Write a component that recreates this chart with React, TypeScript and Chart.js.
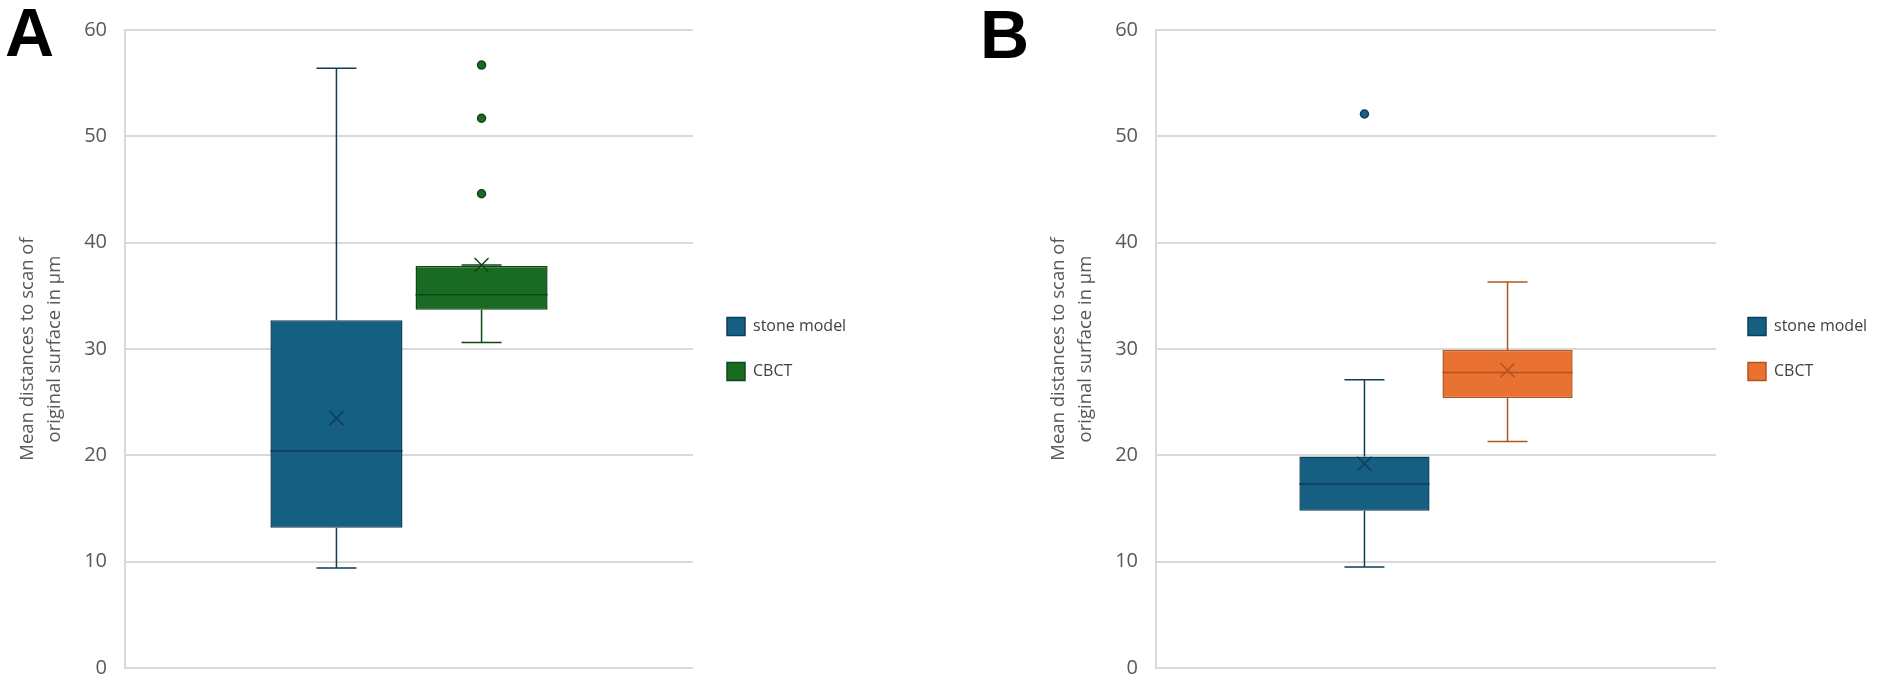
import React, { useEffect, useRef } from 'react';
import { Chart, registerables } from 'chart.js';

Chart.register(...registerables);

// ---------- data ----------
const categories = [''];
const seriesNames = ['stone model', 'CBCT'];
const yMin = 0;
const yMax = 60;
const yStep = 10;
const axisTitle = ['Mean distances to scan of', 'original surface in µm'];

// Panel A
const aMin = [9.4, 30.6];
const aQ1 = [13.2, 33.7];
const aMedian = [20.4, 35.1];
const aQ3 = [32.7, 37.8];
const aMax = [56.4, 37.9];
const aMean = [23.5, 37.9];
const aOutliers = [[], [44.6, 51.7, 56.7]];

// Panel B
const bMin = [9.5, 21.3];
const bQ1 = [14.8, 25.4];
const bMedian = [17.3, 27.8];
const bQ3 = [19.9, 29.9];
const bMax = [27.1, 36.3];
const bMean = [19.2, 28.0];
const bOutliers = [[52.1], []];

// ---------- styles ----------
const aFill = ['#156082', '#196B24'];
const aLine = ['#0e3d57', '#0e4716'];
const bFill = ['#156082', '#E97132'];
const bLine = ['#0e3d57', '#b3541e'];

const FONT = '"Open Sans", "Noto Sans", sans-serif';
const CANVAS_W = 951;
const CANVAS_H = 698;

type Panel = {
  min: number[]; q1: number[]; median: number[]; q3: number[]; max: number[]; mean: number[];
  outliers: number[][]; fill: string[]; line: string[];
  padLeft: number; padRight: number; legendGap: number;
};

function makeBoxPlugin(p: Panel) {
  return {
    id: 'boxWhisker',
    afterLayout(chart: any) {
      const lg = chart.legend;
      const ca = chart.chartArea;
      if (lg) {
        const w = lg.width;
        lg.left = ca.right + p.legendGap;
        lg.right = lg.left + w;
        lg.top = ca.top;
        lg.bottom = ca.bottom;
        lg.height = ca.bottom - ca.top;
      }
    },
    afterDatasetsDraw(chart: any) {
      const ctx = chart.ctx;
      const y = chart.scales.y;
      ctx.save();
      seriesNames.forEach((_, i) => {
        const el = chart.getDatasetMeta(i).data[0];
        if (!el) return;
        const x = el.x;
        const w = el.width;
        const cap = 20;
        ctx.strokeStyle = p.line[i];
        ctx.lineWidth = 1.5;
        // whiskers
        ctx.beginPath();
        ctx.moveTo(x, y.getPixelForValue(p.q3[i]));
        ctx.lineTo(x, y.getPixelForValue(p.max[i]));
        ctx.moveTo(x - cap, y.getPixelForValue(p.max[i]));
        ctx.lineTo(x + cap, y.getPixelForValue(p.max[i]));
        ctx.moveTo(x, y.getPixelForValue(p.q1[i]));
        ctx.lineTo(x, y.getPixelForValue(p.min[i]));
        ctx.moveTo(x - cap, y.getPixelForValue(p.min[i]));
        ctx.lineTo(x + cap, y.getPixelForValue(p.min[i]));
        ctx.stroke();
        // median
        ctx.beginPath();
        const ym = y.getPixelForValue(p.median[i]);
        ctx.moveTo(x - w / 2, ym);
        ctx.lineTo(x + w / 2, ym);
        ctx.stroke();
        // mean X
        const yMean = y.getPixelForValue(p.mean[i]);
        const s = 7;
        ctx.beginPath();
        ctx.moveTo(x - s, yMean - s);
        ctx.lineTo(x + s, yMean + s);
        ctx.moveTo(x + s, yMean - s);
        ctx.lineTo(x - s, yMean + s);
        ctx.stroke();
        // outliers
        p.outliers[i].forEach((v) => {
          ctx.beginPath();
          ctx.arc(x, y.getPixelForValue(v), 4, 0, Math.PI * 2);
          ctx.fillStyle = p.fill[i];
          ctx.fill();
          ctx.lineWidth = 1.5;
          ctx.stroke();
        });
      });
      ctx.restore();
    },
  };
}

function BoxChart({ p }: { p: Panel }) {
  const ref = useRef<HTMLCanvasElement>(null);
  useEffect(() => {
    if (!ref.current) return;
    const chart = new Chart(ref.current, {
      type: 'bar',
      data: {
        labels: categories,
        datasets: seriesNames.map((name, i) => ({
          label: name,
          data: [[p.q1[i], p.q3[i]]] as any,
          backgroundColor: p.fill[i],
          borderColor: p.line[i],
          borderWidth: 1.5,
          borderSkipped: false,
          categoryPercentage: 0.511,
          barPercentage: 0.91,
        })),
      },
      options: {
        animation: false,
        responsive: false,
        devicePixelRatio: 1,
        events: [],
        layout: { padding: { left: p.padLeft, right: p.padRight, top: 24, bottom: 18 } },
        scales: {
          x: { display: false },
          y: {
            min: yMin,
            max: yMax,
            ticks: { stepSize: yStep, padding: 18, color: '#595959', font: { family: FONT, size: 20 } },
            grid: { color: '#d9d9d9', lineWidth: 2, drawTicks: false },
            border: { display: true, color: '#d9d9d9', width: 2 },
            title: {
              display: true,
              text: axisTitle,
              color: '#595959',
              font: { family: FONT, size: 18.5, lineHeight: 1.46 },
              padding: { top: 14, bottom: 0 },
            },
            afterFit: (scale: any) => { scale.width = 125; },
          },
        },
        plugins: {
          tooltip: { enabled: false },
          legend: {
            position: 'chartArea' as any,
            align: 'center',
            labels: {
              boxWidth: 18,
              boxHeight: 18,
              padding: 27,
              color: '#404040',
              font: { family: FONT, size: 16 },
            },
          },
        },
      },
      plugins: [makeBoxPlugin(p)],
    });
    return () => chart.destroy();
  }, [p]);
  return <canvas ref={ref} width={CANVAS_W} height={CANVAS_H} style={{ width: CANVAS_W, height: CANVAS_H, display: 'block' }} />;
}

const panelA: Panel = {
  min: aMin, q1: aQ1, median: aMedian, q3: aQ3, max: aMax, mean: aMean, outliers: aOutliers,
  fill: aFill, line: aLine, padLeft: 0, padRight: CANVAS_W - 693, legendGap: 7,
};
const panelB: Panel = {
  min: bMin, q1: bQ1, median: bMedian, q3: bQ3, max: bMax, mean: bMean, outliers: bOutliers,
  fill: bFill, line: bLine, padLeft: 80, padRight: CANVAS_W - 765, legendGap: 5,
};

const letterStyle: React.CSSProperties = {
  position: 'absolute',
  fontFamily: '"Liberation Sans", Arial, sans-serif',
  fontWeight: 900,
  fontSize: 68,
  lineHeight: 1,
  color: '#000',
};

export default function App() {
  return (
    <div style={{ position: 'absolute', left: 0, top: 0, width: 1902, height: 698, background: '#fff', overflow: 'hidden' }}>
      <div style={{ position: 'absolute', left: 0, top: 0 }}><BoxChart p={panelA} /></div>
      <div style={{ position: 'absolute', left: 951, top: 0 }}><BoxChart p={panelB} /></div>
      <div style={{ ...letterStyle, left: 5, top: -2 }}>A</div>
      <div style={{ ...letterStyle, left: 980, top: 0 }}>B</div>
    </div>
  );
}
